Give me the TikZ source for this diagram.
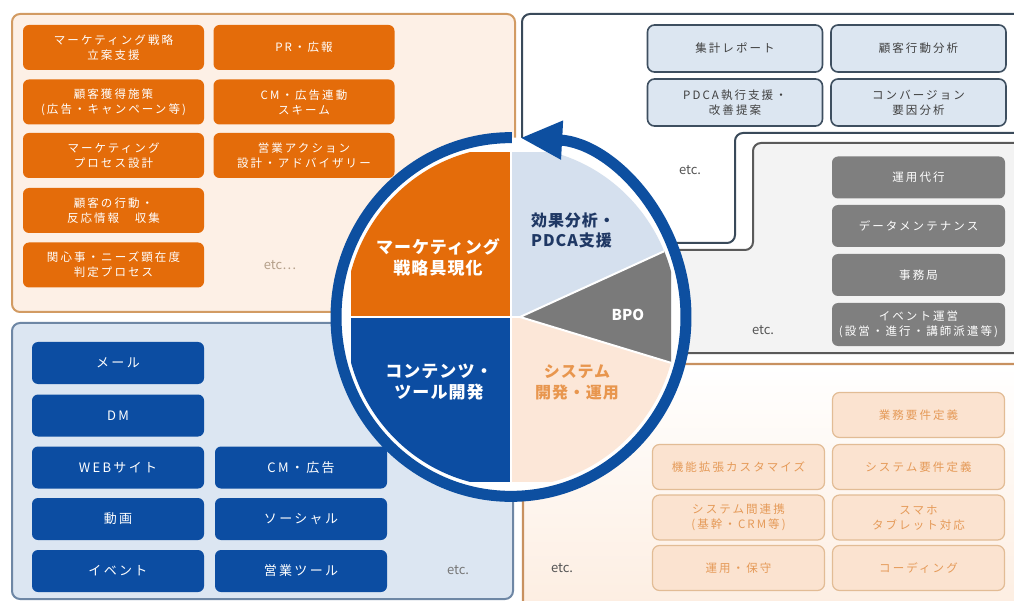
\documentclass[tikz,border=0pt]{standalone}
\usepackage{fontspec}
\setmainfont{Noto Sans CJK JP}
\newfontfamily\spfont[LetterSpace=18]{Noto Sans CJK JP}
\newfontfamily\bigspfont[LetterSpace=6]{Noto Sans CJK JP}
\usetikzlibrary{arrows.meta}
\definecolor{orgC}{HTML}{E46C0A}
\definecolor{blueC}{HTML}{0C4DA2}
\definecolor{ringC}{HTML}{0D4FA0}
\definecolor{lbC}{HTML}{D5E0EE}
\definecolor{peachC}{HTML}{FCE7D8}
\definecolor{grayC}{HTML}{7A7A7A}
\definecolor{tlFill}{HTML}{FDF0E6}
\definecolor{tlLine}{HTML}{D29B63}
\definecolor{blFill}{HTML}{DCE6F2}
\definecolor{blLine}{HTML}{6E87A5}
\definecolor{trLine}{HTML}{3A4A5A}
\definecolor{midFill}{HTML}{F3F3F3}
\definecolor{midLine}{HTML}{5A5A5A}
\definecolor{brLine}{HTML}{C89160}
\definecolor{brFill}{HTML}{FDEDE0}
\definecolor{lbBox}{HTML}{DCE6F1}
\definecolor{lbBoxLine}{HTML}{3E4F60}
\definecolor{lbText}{HTML}{404040}
\definecolor{grBox}{HTML}{7F7F7F}
\definecolor{pcBox}{HTML}{FBE3D0}
\definecolor{pcLine}{HTML}{E2BC95}
\definecolor{pcText}{HTML}{E59A58}
\definecolor{navyT}{HTML}{1F3864}
\definecolor{sysT}{HTML}{E8964E}
\definecolor{etcT}{HTML}{555555}
\definecolor{etcTan}{HTML}{B5A08A}
\newcommand\smallbox{\spfont\fontsize{11.5}{15}\selectfont}
\newcommand\bluebox{\spfont\fontsize{13}{16}\selectfont}
\newcommand\piefont{\bigspfont\bfseries\fontsize{17}{21}\selectfont}
\tikzset{
  panel/.style={line width=2pt, rounded corners=8pt},
  obox/.style={fill=orgC, rounded corners=6pt, text=white, minimum width=181pt, minimum height=45pt, align=center, inner sep=0pt, font=\smallbox},
  lbbox/.style={fill=lbBox, draw=lbBoxLine, line width=1.6pt, rounded corners=7pt, text=lbText, minimum width=175pt, minimum height=47pt, align=center, inner sep=0pt, font=\smallbox},
  gbox/.style={fill=grBox, rounded corners=6pt, text=white, minimum width=173pt, minimum height=42pt, align=center, inner sep=0pt, font=\smallbox},
  bbox/.style={fill=blueC, rounded corners=6pt, text=white, minimum width=172pt, minimum height=42pt, align=center, inner sep=0pt, font=\bluebox},
  pbox/.style={fill=pcBox, draw=pcLine, line width=1.2pt, rounded corners=7pt, text=pcText, minimum width=172pt, minimum height=45pt, align=center, inner sep=0pt, font=\smallbox},
  etclabel/.style={text=etcT, font=\fontsize{13}{15}\selectfont, inner sep=0pt},
  pietext/.style={align=center, inner sep=0pt, font=\piefont},
}
\begin{document}
\begin{tikzpicture}[x=1pt, y=-1pt]
\useasboundingbox (0,0) rectangle (1014,601);
\clip (0,0) rectangle (1014,601);
\fill[white] (0,0) rectangle (1014,601);

% panels
\draw[panel, draw=tlLine, fill=tlFill] (12,14) rectangle (515,312);
\draw[panel, draw=blLine, fill=blFill] (12,323) rectangle (513,599);
\draw[panel, draw=trLine, fill=white] (522,243) -- (522,14) -- (1030,14) -- (1030,133) -- (735,133) -- (735,243) -- cycle;
\draw[panel, draw=midLine, fill=midFill] (600,250) -- (753,250) -- (753,143) -- (1030,143) -- (1030,353) -- (600,353) -- cycle;
\path[panel, draw=brLine, line width=2.4pt, top color=white, bottom color=brFill] (523,620) -- (523,364) -- (1030,364) -- (1030,620) -- cycle;

% orange boxes
\node[obox] (o11) at (113.5,47.5) {マーケティング戦略\\立案支援};
\node[obox] (o21) at (113.5,102) {顧客獲得施策\\(広告・キャンペーン等)};
\node[obox] (o31) at (113.5,155.5) {マーケティング\\プロセス設計};
\node[obox] (o41) at (113.5,210.5) {顧客の行動・\\反応情報　収集};
\node[obox] (o51) at (113.5,265) {関心事・ニーズ顕在度\\判定プロセス};
\node[obox] (o12) at (304,47.5) {PR・広報};
\node[obox] (o22) at (304,102) {CM・広告連動\\スキーム};
\node[obox] (o32) at (304,155.5) {営業アクション\\設計・アドバイザリー};
\node[etclabel, text=etcTan] (etc1) at (280,265) {etc…};

% light blue boxes
\node[lbbox] (l11) at (735,48.5) {集計レポート};
\node[lbbox] (l12) at (918.5,48.5) {顧客行動分析};
\node[lbbox] (l21) at (735,102.5) {PDCA執行支援・\\改善提案};
\node[lbbox] (l22) at (918.5,102.5) {コンバージョン\\要因分析};
\node[etclabel] (etc2) at (690,170) {etc.};

% gray boxes
\node[gbox] (g1) at (918.5,177.5) {運用代行};
\node[gbox] (g2) at (918.5,226) {データメンテナンス};
\node[gbox] (g3) at (918.5,275) {事務局};
\node[gbox, minimum height=43pt] (g4) at (918.5,324.5) {イベント運営\\(設営・進行・講師派遣等)};
\node[etclabel] (etc3) at (763,330) {etc.};

% blue boxes
\node[bbox] (b11) at (118,363) {メール};
\node[bbox] (b21) at (118,415.5) {DM};
\node[bbox] (b31) at (118,467.5) {WEBサイト};
\node[bbox] (b41) at (118,519) {動画};
\node[bbox] (b51) at (118,571) {イベント};
\node[bbox] (b32) at (301,467.5) {CM・広告};
\node[bbox] (b42) at (301,519) {ソーシャル};
\node[bbox] (b52) at (301,571) {営業ツール};
\node[etclabel, text=etcT!80] (etc4) at (458,570) {etc.};

% peach boxes
\node[pbox] (p12) at (918.5,415) {業務要件定義};
\node[pbox] (p21) at (738.5,467) {機能拡張カスタマイズ};
\node[pbox] (p22) at (918.5,467) {システム要件定義};
\node[pbox] (p31) at (738.5,517.5) {システム間連携\\(基幹・CRM等)};
\node[pbox] (p32) at (918.5,517.5) {スマホ\\タブレット対応};
\node[pbox] (p41) at (738.5,568) {運用・保守};
\node[pbox] (p42) at (918.5,568) {コーディング};
\node[etclabel] (etc5) at (562,568) {etc.};

% central pie
\begin{scope}[shift={(511,317)}, yscale=-1.025]
  \fill[white] (0,0) circle (175);
  \begin{scope}
    \clip (0,0) circle (166);
    \clip (-160,-160) rectangle (160,160);
    \fill[orgC] (-170,0) rectangle (0,170);
    \fill[lbC] (0,0) rectangle (170,170);
    \fill[blueC] (-170,-170) rectangle (0,0);
    \fill[peachC] (0,-170) rectangle (170,0);
    \draw[white, line width=2pt] (-170,0) -- (9,0);
    \draw[white, line width=2pt] (0,-170) -- (0,170);
    \filldraw[fill=grayC, draw=white, line width=2pt] (9,0) -- (191.7,81.3) -- (200.8,-56.8) -- cycle;
  \end{scope}
  \draw[ringC, line width=11pt, -{Triangle[length=42pt, width=36pt]}] (89.7:175) arc[start angle=89.7, end angle=447, radius=175];
\end{scope}

\node[pietext, text=white] (mk) at (438,257) {マーケティング\\戦略具現化};
\node[pietext, text=white] (ct) at (439,382) {コンテンツ・\\ツール開発};
\node[pietext, text=navyT, font=\bigspfont\bfseries\fontsize{16}{20}\selectfont, align=left] (ef) at (573,230) {効果分析・\\PDCA支援};
\node[pietext, text=white, font=\bfseries\fontsize{15}{18}\selectfont] (bpo) at (628,315) {BPO};
\node[pietext, text=sysT, font=\bigspfont\bfseries\fontsize{16}{21}\selectfont] (sy) at (577,382) {システム\\開発・運用};
\end{tikzpicture}
\end{document}
